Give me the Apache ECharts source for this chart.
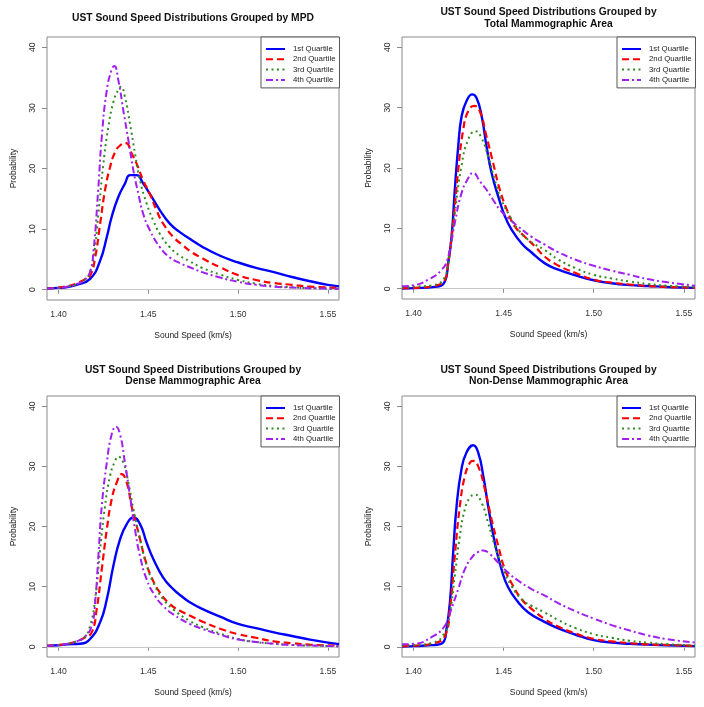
<!DOCTYPE html>
<html>
<head>
<meta charset="utf-8">
<script src="https://cdn.jsdelivr.net/npm/echarts@6/dist/echarts.min.js"></script>
<style>
html,body{margin:0;padding:0;background:#fff;}
#chart{width:704px;height:707px;}
</style>
</head>
<body>
<div id="chart"></div>
<script>
// ---------- Data (Sound speed km/s, probability density) ----------
const panelTitles = [
  "UST Sound Speed Distributions Grouped by MPD",
  "UST Sound Speed Distributions Grouped by\nTotal Mammographic Area",
  "UST Sound Speed Distributions Grouped by\nDense Mammographic Area",
  "UST Sound Speed Distributions Grouped by\nNon-Dense Mammographic Area"
];
const seriesNames = ["1st Quartile", "2nd Quartile", "3rd Quartile", "4th Quartile"];
const xTicks = [1.40, 1.45, 1.50, 1.55];
const yTicks = [0, 10, 20, 30, 40];
const xLabel = "Sound Speed (km/s)";
const yLabel = "Probability";

// Panel 1: MPD
const mpdQ1 = [[1.3936,0.2],[1.40,0.3],[1.405,0.45],[1.41,0.8],[1.4176,1.8],[1.4232,4.8],[1.4269,8.7],[1.4296,12],[1.4333,15.3],[1.437,17.5],[1.4398,18.9],[1.4435,18.9],[1.4472,17.5],[1.4509,15.8],[1.4565,13.1],[1.462,10.9],[1.4676,9.5],[1.4731,8.4],[1.48,7.1],[1.49,5.6],[1.50,4.5],[1.51,3.6],[1.52,2.9],[1.53,2.1],[1.54,1.4],[1.55,0.8],[1.5562,0.55]];
const mpdQ2 = [[1.3936,0.2],[1.40,0.35],[1.405,0.6],[1.41,1.0],[1.4145,1.7],[1.4176,2.3],[1.4204,5.3],[1.4232,10.9],[1.4259,16.4],[1.4287,20.2],[1.4315,22.7],[1.4343,23.8],[1.4376,24.2],[1.4407,22.5],[1.4435,20.8],[1.4472,18],[1.4509,15.8],[1.4546,13.1],[1.4583,10.9],[1.4639,8.7],[1.4694,7.3],[1.4731,6.4],[1.48,5.2],[1.49,3.7],[1.50,2.4],[1.51,1.6],[1.52,1.1],[1.53,0.8],[1.54,0.5],[1.5562,0.3]];
const mpdQ3 = [[1.3936,0.2],[1.40,0.3],[1.405,0.5],[1.41,0.9],[1.4145,1.6],[1.417,2.5],[1.4195,5.3],[1.4222,12.5],[1.425,20.8],[1.4278,26.9],[1.4306,31],[1.4333,33],[1.4348,33.5],[1.437,31.8],[1.4398,27.4],[1.4426,22.5],[1.4454,18],[1.4491,14.2],[1.4528,11.4],[1.4565,9.2],[1.462,7],[1.4676,5.6],[1.4731,4.7],[1.48,3.6],[1.49,2.5],[1.50,1.6],[1.51,1.0],[1.52,0.6],[1.53,0.4],[1.54,0.25],[1.5562,0.15]];
const mpdQ4 = [[1.3936,0.2],[1.40,0.3],[1.405,0.5],[1.41,0.9],[1.4145,1.6],[1.4176,3.0],[1.4195,6.4],[1.4222,16.9],[1.4241,25.2],[1.4269,32.9],[1.4296,36.3],[1.4311,36.9],[1.4333,34.6],[1.4361,29.6],[1.4389,24.7],[1.4417,19.7],[1.4445,15.8],[1.4472,12.5],[1.4509,9.8],[1.4565,7.0],[1.462,5.3],[1.4676,4.4],[1.4731,3.7],[1.48,2.9],[1.49,2.0],[1.50,1.3],[1.51,0.8],[1.52,0.5],[1.53,0.35],[1.54,0.25],[1.5562,0.15]];

// Panel 2: Total mammographic area
const tmaQ1 = [[1.3936,0.05],[1.4007,0.1],[1.4118,0.3],[1.4174,1.2],[1.4192,4.2],[1.4211,8.6],[1.4229,16.4],[1.4248,23.6],[1.4267,28.6],[1.4294,31.1],[1.4326,32.2],[1.435,31.6],[1.4378,28.6],[1.4405,23.6],[1.4433,19.2],[1.447,15.3],[1.4507,12],[1.4544,9.8],[1.46,7.5],[1.4655,6],[1.4729,4.2],[1.48,3.2],[1.49,2.2],[1.50,1.4],[1.51,0.9],[1.52,0.6],[1.53,0.45],[1.54,0.3],[1.5562,0.15]];
const tmaQ2 = [[1.3936,0.1],[1.4007,0.15],[1.41,0.4],[1.4174,1.5],[1.4192,4.2],[1.422,10.9],[1.4248,19.7],[1.4276,26.4],[1.4303,29.4],[1.4337,30.3],[1.4368,29.4],[1.4405,25.2],[1.4442,20.8],[1.4479,16.4],[1.4526,12.5],[1.4563,10.3],[1.4618,8.6],[1.4674,7],[1.4729,5.3],[1.48,3.9],[1.49,2.6],[1.50,1.5],[1.51,1.0],[1.52,0.7],[1.53,0.45],[1.54,0.3],[1.5562,0.15]];
const tmaQ3 = [[1.3936,0.2],[1.4007,0.35],[1.41,0.55],[1.4174,2.0],[1.4201,6.4],[1.4229,12.5],[1.4266,20.3],[1.4303,24.7],[1.4344,26.1],[1.4377,25],[1.4414,21.9],[1.4451,18],[1.4488,14.7],[1.4535,12],[1.4581,9.8],[1.4637,8.1],[1.4729,6.4],[1.48,4.9],[1.49,3.4],[1.50,2.3],[1.51,1.7],[1.52,1.2],[1.53,0.8],[1.54,0.5],[1.5562,0.3]];
const tmaQ4 = [[1.3936,0.4],[1.4007,0.6],[1.4081,1.5],[1.4155,3.1],[1.4192,5.3],[1.4229,10.9],[1.4266,15.8],[1.4303,18.3],[1.4331,19.2],[1.4368,17.8],[1.4405,16.4],[1.4442,14.7],[1.4479,13.1],[1.4526,11.7],[1.4581,10.3],[1.4655,8.6],[1.4729,7.3],[1.48,6.1],[1.49,4.8],[1.50,3.8],[1.51,3.0],[1.52,2.3],[1.53,1.6],[1.54,1.1],[1.5562,0.5]];

// Panel 3: Dense mammographic area
const dmaQ1 = [[1.3936,0.15],[1.40,0.25],[1.405,0.4],[1.4121,0.5],[1.4176,1.3],[1.4232,4.1],[1.4269,7.9],[1.4306,13.5],[1.4343,17.9],[1.438,20.4],[1.4417,21.5],[1.4454,20.4],[1.4491,17.3],[1.4528,14.6],[1.4583,11.5],[1.4639,9.6],[1.4694,8.2],[1.4731,7.4],[1.48,6.3],[1.49,5.0],[1.50,3.8],[1.51,3.1],[1.52,2.4],[1.53,1.8],[1.54,1.2],[1.55,0.7],[1.5562,0.45]];
const dmaQ2 = [[1.3936,0.15],[1.40,0.3],[1.405,0.5],[1.41,0.9],[1.4145,1.5],[1.4185,2.4],[1.4213,6.3],[1.4241,12.9],[1.4269,19.5],[1.4296,24.5],[1.4324,27.3],[1.4352,28.7],[1.438,27.3],[1.4407,23.4],[1.4445,19],[1.4482,14.6],[1.4519,11.5],[1.4565,9],[1.462,7.1],[1.4676,6],[1.4731,5.2],[1.48,4.2],[1.49,3.0],[1.50,2.1],[1.51,1.5],[1.52,0.9],[1.53,0.6],[1.54,0.35],[1.5562,0.2]];
const dmaQ3 = [[1.3936,0.15],[1.40,0.3],[1.405,0.5],[1.41,0.9],[1.4145,1.6],[1.4176,3.5],[1.4204,7.9],[1.4232,16.2],[1.4259,23.4],[1.4287,28.4],[1.4315,30.9],[1.4333,31.6],[1.4361,30.6],[1.4389,27.3],[1.4417,22.9],[1.4454,17.9],[1.4491,13.5],[1.4537,10.1],[1.4583,7.9],[1.4639,6.2],[1.4731,4.3],[1.48,3.3],[1.49,2.2],[1.50,1.3],[1.51,0.8],[1.52,0.5],[1.53,0.3],[1.54,0.2],[1.5562,0.1]];
const dmaQ4 = [[1.3936,0.15],[1.40,0.3],[1.405,0.5],[1.41,0.9],[1.4145,1.6],[1.4185,3.5],[1.4204,7.4],[1.4222,15.1],[1.4241,23.4],[1.4269,30.6],[1.4296,35.3],[1.432,36.6],[1.4343,35.3],[1.437,30.6],[1.4398,25.1],[1.4426,19.5],[1.4454,15.1],[1.4491,11.2],[1.4537,8.5],[1.4583,6.8],[1.4639,5.4],[1.4731,3.8],[1.48,3.0],[1.49,2.0],[1.50,1.2],[1.51,0.8],[1.52,0.5],[1.53,0.3],[1.54,0.2],[1.5562,0.1]];

// Panel 4: Non-dense mammographic area
const ndmaQ1 = [[1.3936,0.05],[1.4007,0.1],[1.4083,0.25],[1.4118,0.3],[1.4164,0.7],[1.4183,3],[1.4202,7.4],[1.422,15.7],[1.4239,23.4],[1.4266,29.5],[1.4294,32.3],[1.4331,33.5],[1.4359,32.3],[1.4387,28.4],[1.4414,23.4],[1.4451,17.3],[1.4488,12.9],[1.4525,9.9],[1.4581,7.4],[1.4637,5.7],[1.4729,4.1],[1.48,3.1],[1.49,2.0],[1.50,1.1],[1.51,0.7],[1.52,0.5],[1.53,0.35],[1.54,0.25],[1.5562,0.1]];
const ndmaQ2 = [[1.3936,0.1],[1.4007,0.2],[1.41,0.5],[1.4174,1.8],[1.4202,6.3],[1.4229,15.1],[1.4257,23.4],[1.4285,28.4],[1.4313,30.6],[1.4331,30.9],[1.4359,30],[1.4396,26.2],[1.4433,21.2],[1.447,16.8],[1.4507,12.9],[1.4553,10.1],[1.46,7.9],[1.4655,6.3],[1.4729,4.6],[1.48,3.4],[1.49,2.2],[1.50,1.3],[1.51,0.9],[1.52,0.6],[1.53,0.4],[1.54,0.3],[1.5562,0.15]];
const ndmaQ3 = [[1.3936,0.2],[1.4007,0.3],[1.41,0.6],[1.4174,2.4],[1.4202,5.7],[1.4229,11.8],[1.4257,18.4],[1.4285,22.9],[1.4313,24.8],[1.434,25.3],[1.4377,24],[1.4414,20.6],[1.4451,16.8],[1.4498,12.9],[1.4544,10.1],[1.46,7.9],[1.4655,6.8],[1.4729,5.7],[1.48,4.5],[1.49,3.1],[1.50,2.1],[1.51,1.5],[1.52,1.0],[1.53,0.7],[1.54,0.45],[1.5562,0.2]];
const ndmaQ4 = [[1.3936,0.4],[1.4007,0.5],[1.41,1.6],[1.4174,3.5],[1.421,6.3],[1.4248,9.6],[1.4285,12.9],[1.4322,14.8],[1.4359,15.8],[1.4387,16],[1.4424,15.4],[1.447,14],[1.4526,12.3],[1.4581,11],[1.4655,9.6],[1.4729,8.5],[1.48,7.3],[1.49,5.9],[1.50,4.7],[1.51,3.6],[1.52,2.7],[1.53,1.9],[1.54,1.3],[1.5562,0.7]];

const panelData = [
  [mpdQ1, mpdQ2, mpdQ3, mpdQ4],
  [tmaQ1, tmaQ2, tmaQ3, tmaQ4],
  [dmaQ1, dmaQ2, dmaQ3, dmaQ4],
  [ndmaQ1, ndmaQ2, ndmaQ3, ndmaQ4]
];

// ---------- Layout & style ----------
const FONT = "'Liberation Sans', Arial, Helvetica, sans-serif";
const grids = [
  {left: 47,  top: 37,  width: 292, height: 263},
  {left: 402, top: 37,  width: 293, height: 262},
  {left: 47,  top: 396, width: 292, height: 261},
  {left: 402, top: 396, width: 293, height: 261}
];
const titleTops = [12.3, 6.7, 364, 364];
const lineStyles = [
  {color: '#0000FF', width: 2.4, type: 'solid'},
  {color: '#FF0000', width: 2.2, type: [7, 4]},
  {color: '#2E8B1E', width: 2.0, type: [2, 3.5]},
  {color: '#A020F0', width: 2.0, type: [7, 3, 2, 3]}
];

const option = {
  animation: false,
  backgroundColor: '#ffffff',
  textStyle: {fontFamily: FONT},
  title: [],
  legend: [],
  grid: [],
  xAxis: [],
  yAxis: [],
  series: []
};

grids.forEach((g, i) => {
  option.grid.push({
    left: g.left, top: g.top, width: g.width, height: g.height,
    show: true, borderColor: '#8a8a8a', borderWidth: 1, backgroundColor: 'transparent',
    containLabel: false
  });
  option.title.push({
    text: panelTitles[i],
    left: g.left + g.width / 2,
    top: titleTops[i],
    textAlign: 'center',
    padding: 0,
    textStyle: {fontFamily: FONT, fontSize: 10.3, fontWeight: 'bold', color: '#111', lineHeight: 11.7}
  });
  option.xAxis.push({
    type: 'value', gridIndex: i, min: 1.3936, max: 1.5562,
    name: xLabel, nameLocation: 'middle', nameGap: 31,
    nameTextStyle: {fontFamily: FONT, fontSize: 8.5, color: '#222'},
    axisLine: {show: false},
    axisTick: {show: true, length: 4, lineStyle: {color: '#8a8a8a'}, customValues: xTicks},
    axisLabel: {fontFamily: FONT, fontSize: 8.6, color: '#333', margin: 10,
      customValues: xTicks, formatter: v => v.toFixed(2)},
    splitLine: {show: false}
  });
  option.yAxis.push({
    type: 'value', gridIndex: i, min: -1.7, max: 41.7,
    name: yLabel, nameLocation: 'middle', nameGap: 29, nameRotate: 90,
    nameTextStyle: {fontFamily: FONT, fontSize: 8.5, color: '#222'},
    axisLine: {show: false},
    axisTick: {show: true, length: 5, lineStyle: {color: '#8a8a8a'}, customValues: yTicks},
    axisLabel: {fontFamily: FONT, fontSize: 8.6, color: '#333', margin: 10, rotate: 90,
      customValues: yTicks},
    splitLine: {show: false}
  });
  option.legend.push({
    orient: 'vertical',
    left: g.left + g.width - 78,
    top: g.top,
    padding: [8, 4, 4, 4],
    itemGap: 2.3,
    itemWidth: 19,
    itemHeight: 8,
    borderColor: '#555', borderWidth: 1,
    backgroundColor: '#fff',
    data: seriesNames.slice(),
    itemStyle: {opacity: 0},
    textStyle: {fontFamily: FONT, fontSize: 7.8, color: '#222', padding: [0, 0, 0, 3]},
    selectedMode: false
  });
  panelData[i].forEach((d, k) => {
    const s = {
      name: seriesNames[k],
      type: 'line',
      xAxisIndex: i, yAxisIndex: i,
      data: d,
      showSymbol: false, symbol: 'none',
      smooth: 0.5,
      lineStyle: lineStyles[k],
      itemStyle: {color: lineStyles[k].color},
      z: 3 + k,
      silent: true
    };
    if (k === 0) {
      s.markLine = {
        silent: true, symbol: 'none', label: {show: false},
        lineStyle: {color: '#c8c8c8', type: 'solid', width: 1},
        data: [{yAxis: 0}],
        z: 1
      };
    }
    option.series.push(s);
  });
});

const chart = echarts.init(document.getElementById('chart'), null, {renderer: 'canvas'});
chart.setOption(option);
</script>
</body>
</html>
